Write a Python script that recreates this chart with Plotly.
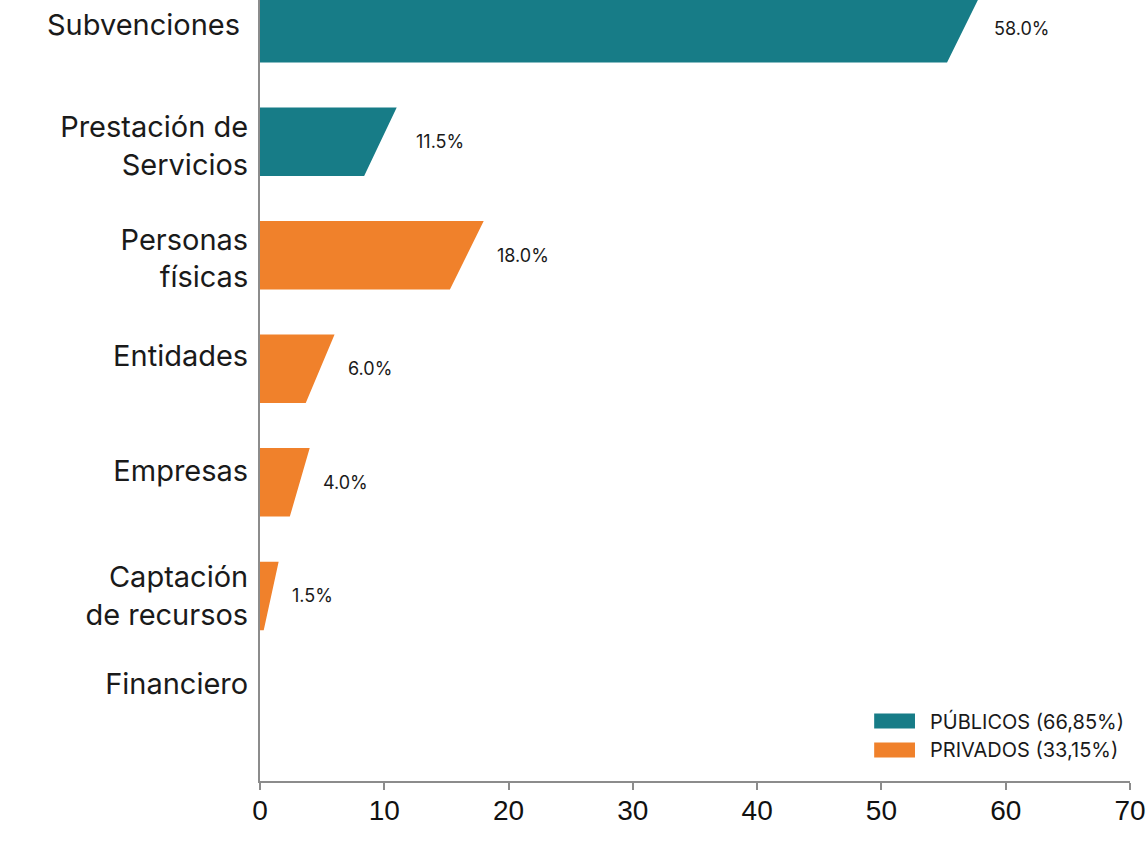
import plotly.graph_objects as go

# ---------------- data ----------------
categories = ["Subvenciones\u00a0", "Prestación de<br>Servicios", "Personas<br>físicas",
              "Entidades", "Empresas", "Captación<br>de recursos", "Financiero"]
groups = ["PÚBLICOS", "PÚBLICOS", "PRIVADOS", "PRIVADOS", "PRIVADOS", "PRIVADOS", "PRIVADOS"]
value_labels = [58.0, 11.5, 18.0, 6.0, 4.0, 1.5, 0.0]     # printed percentages
bar_ends = [58.0, 11.0, 18.0, 6.0, 4.0, 1.5, 0.0]         # drawn bar length (top edge)
legend_names = {"PÚBLICOS": "PÚBLICOS (66,85%)", "PRIVADOS": "PRIVADOS (33,15%)"}
x_ticks = [0, 10, 20, 30, 40, 50, 60, 70]

# ---------------- style ----------------
colors = {"PÚBLICOS": "#177C87", "PRIVADOS": "#F0812B"}
bar_slant = [2.72, 2.62, 2.72, 2.32, 1.6, 1.2, 0.0]      # horizontal slant of right edge (x units)
label_shift_px = [-3, 4, 3, -13, -12, 0, -26]            # vertical offset of category labels
half_h = 0.3017
row_px = 113.53
axis_gray = "#8c8c8c"
text_col = "#1a1a1a"
sans = "Inter, Open Sans, sans-serif"

W, H = 1146, 856
L, R, T, B = 260, 12, 0, 75
PW, PH = W - L - R, H - T - B

def px_x(px):
    return (px - L) / PW

def px_y(py):
    return (H - B - py) / PH

fig = go.Figure()

for g in ["PÚBLICOS", "PRIVADOS"]:
    xs, ys = [], []
    for i, (end, sl, grp) in enumerate(zip(bar_ends, bar_slant, groups)):
        if grp != g or end <= 0:
            continue
        xs += [0, end, end - sl, 0, 0, None]
        ys += [i - half_h, i - half_h, i + half_h, i + half_h, i - half_h, None]
    fig.add_trace(go.Scatter(
        x=xs, y=ys, mode="lines", fill="toself", fillcolor=colors[g],
        line=dict(width=0, color=colors[g]), name=legend_names[g],
        showlegend=False, hoverinfo="skip"))

# value labels
for i, v in enumerate(value_labels):
    if v <= 0:
        continue
    fig.add_annotation(x=v, y=i, xref="x", yref="y", text=f"{v:.1f}%",
                       showarrow=False, xanchor="left", yanchor="middle", xshift=11,
                       font=dict(family=sans, size=18, color=text_col))

# manual legend
legend_rows = [("PÚBLICOS", 721), ("PRIVADOS", 750)]
for g, cy in legend_rows:
    fig.add_shape(type="rect", xref="paper", yref="paper",
                  x0=px_x(877), x1=px_x(918), y0=px_y(cy + 7.5), y1=px_y(cy - 7.5),
                  fillcolor=colors[g], line=dict(width=0))
    fig.add_annotation(x=px_x(931), y=px_y(cy), xref="paper", yref="paper",
                       text=legend_names[g], showarrow=False, xanchor="left", yanchor="middle",
                       font=dict(family=sans, size=20, color=text_col))

y_top = -28.25 / row_px
y_bot = (PH - 28.25) / row_px
tickvals = [i + s / row_px for i, s in enumerate(label_shift_px)]

fig.update_layout(
    width=W, height=H,
    margin=dict(l=L, r=R, t=T, b=B, pad=0),
    paper_bgcolor="white", plot_bgcolor="white",
    showlegend=False,
    xaxis=dict(range=[0, 70], tickvals=x_ticks, ticktext=[str(t) for t in x_ticks],
               showgrid=False, zeroline=False, showline=True, linecolor=axis_gray, linewidth=2,
               ticks="outside", ticklen=7, tickwidth=2, tickcolor=axis_gray,
               ticklabeloverflow="allow", ticklabelstandoff=-4,
               tickfont=dict(family="Liberation Sans, Arial, sans-serif", size=28, color="#111111")),
    yaxis=dict(range=[y_bot, y_top], tickvals=tickvals, ticktext=categories,
               showgrid=False, zeroline=False, showline=True, linecolor=axis_gray, linewidth=2,
               ticks="", ticklabelstandoff=4,
               tickfont=dict(family=sans, size=29, color=text_col)),
)

fig.write_html("out.html", post_script="document.body.style.margin='0';",
               config={"displayModeBar": False})
